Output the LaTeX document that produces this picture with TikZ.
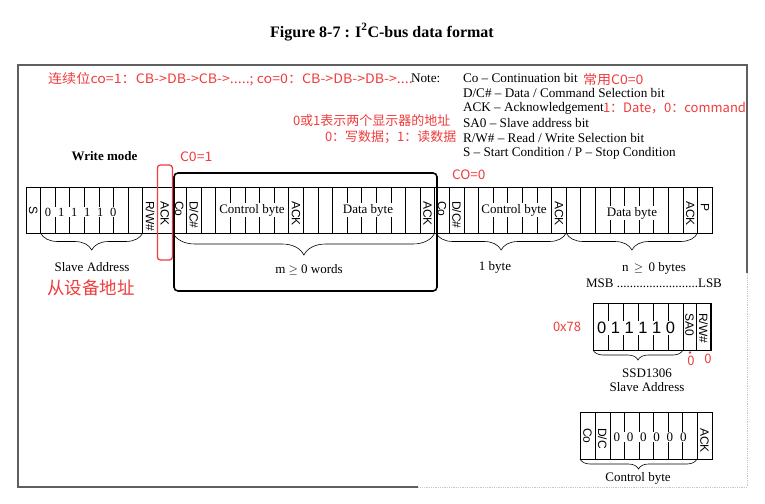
\documentclass[tikz,border=0pt]{standalone}
\usepackage{fontspec}
\setmainfont{Liberation Serif}
\setsansfont{Liberation Sans}
\newfontfamily\cjk{Noto Sans CJK SC}
\usetikzlibrary{decorations.pathreplacing}
\definecolor{anno}{RGB}{240,60,60}
\definecolor{framegray}{RGB}{95,95,95}
\begin{document}
\begin{tikzpicture}[x=1pt,y=-1pt,
  every node/.style={inner sep=0pt, outer sep=0pt},
  txt/.style={font=\fontsize{13}{15}\selectfont},
  notetxt/.style={font=\fontsize{13.2}{15}\selectfont, anchor=west},
  annot/.style={text=anno, font=\cjk\fontsize{13}{15}\selectfont, anchor=west},
  vlab/.style={font=\sffamily\fontsize{12}{12}\selectfont, rotate=-90, anchor=west},
  cellline/.style={line width=0.8pt},
  bytelab/.style={font=\fontsize{13}{15}\selectfont, fill=white, inner sep=1pt},
  brc/.style={decorate, decoration={brace, mirror, amplitude=#1}, line width=0.6pt},
]
\useasboundingbox (0,0) rectangle (765,503);
\fill[white] (0,0) rectangle (765,503);

% frame
\draw[framegray, line width=1.4pt] (418,487) -- (18,487) -- (18,65) -- (747,65) -- (747,273);
\draw[gray!45, densely dotted, line width=0.8pt] (747,273) -- (747,487) -- (418,487);

% title
\node[font=\bfseries\fontsize{16}{18}\selectfont] (title) at (382,32) {Figure 8-7 : I\textsuperscript{2}C-bus data format};

% notes
\node[notetxt] (note) at (411,78) {Note:};
\node[notetxt] (n1) at (463,78) {Co -- Continuation bit};
\node[notetxt] (n2) at (463,93) {D/C\# -- Data / Command Selection bit};
\node[notetxt] (n3) at (463,108) {ACK -- Acknowledgement};
\node[notetxt] (n4) at (463,123) {SA0 -- Slave address bit};
\node[notetxt] (n5) at (463,138) {R/W\# -- Read / Write Selection bit};
\node[notetxt] (n6) at (463,153) {S -- Start Condition / P -- Stop Condition};

% red annotations
\node[annot, xscale=1.09] (a1) at (48,79) {连续位co=1：CB->DB->CB->.....; co=0：CB->DB->DB->....};
\node[annot, xscale=1.08] (a2) at (583,80) {常用C0=0};
\node[annot] (a3) at (603,108) {1：Date，0：command};
\node[annot] (a4) at (293,121) {0或1表示两个显示器的地址};
\node[annot] (a5) at (325,137) {0：写数据；1：读数据};
\node[annot, xscale=1.08] (a6) at (180,157) {C0=1};
\node[annot, xscale=1.05] (a7) at (452,175) {CO=0};
\node[annot, font=\cjk\fontsize{17.5}{20}\selectfont] (a8) at (47,288) {从设备地址};
\node[annot] (a9) at (553,327) {0x78};
\node[annot, anchor=center] (a10) at (691,361) {0};
\node[annot, anchor=center] (a11) at (708,359) {0};

\node[font=\bfseries\fontsize{13}{15}\selectfont] (wm) at (104.5,156) {Write mode};

% main row
\draw[cellline] (26,187) rectangle (712.2,233);
\foreach \i in {1,...,46} \draw[cellline] ({26+\i*14.6},187) -- ({26+\i*14.6},233);

\node[font=\sffamily\fontsize{12}{12}\selectfont, rotate=-90] (cS) at ({26+0.5*14.6},210) {S};
\node[fill=white, inner sep=1.2pt, font=\fontsize{12.5}{14}\selectfont] (addr) at (80.7,212)
  {0\kern6.8pt 1\kern6.8pt 1\kern6.8pt 1\kern6.8pt 1\kern6.8pt 0};
\node[vlab] (cRW) at ({26+8.5*14.6},201) {R/W\#};
\node[vlab] (cA1) at ({26+9.5*14.6},201) {ACK};
\node[vlab] (cCo1) at ({26+10.5*14.6},201) {Co};
\node[vlab] (cDC1) at ({26+11.5*14.6},201) {D/C\#};
\node[bytelab] (cb1) at (252,210) {Control byte};
\node[vlab] (cA2) at ({26+18.5*14.6},201) {ACK};
\node[bytelab] (db1) at (368,210) {Data byte};
\node[vlab] (cA3) at ({26+27.5*14.6},201) {ACK};
\node[vlab] (cCo2) at ({26+28.5*14.6},201) {Co};
\node[vlab] (cDC2) at ({26+29.5*14.6},201) {D/C\#};
\node[bytelab] (cb2) at (514,210) {Control byte};
\node[vlab] (cA4) at ({26+36.5*14.6},201) {ACK};
\node[bytelab] (db2) at (632,213) {Data byte};
\node[vlab] (cA5) at ({26+45.5*14.6},201) {ACK};
\node[vlab] (cP) at ({26+46.5*14.6},203) {P};

% highlight boxes
\draw[line width=1.6pt, rounded corners=4pt] (174,173) rectangle (437,291);
\draw[anno, line width=1.3pt, rounded corners=3pt] (157.4,165) rectangle (172.4,260);

% braces
\coordinate (b1s) at (40.6,233); \coordinate (b1e) at (142.8,233);
\coordinate (b2s) at (173,233); \coordinate (b2e) at (434.8,233);
\coordinate (b3s) at (436,233); \coordinate (b3e) at (566.2,233);
\coordinate (b4s) at (566.2,233); \coordinate (b4e) at (697.6,233);
\draw[brc=17] (b1s) -- (b1e);
\draw[brc=22] (b2s) -- (b2e);
\draw[brc=17] (b3s) -- (b3e);
\draw[brc=17] (b4s) -- (b4e);
\node[txt] (lsa) at (92,267) {Slave Address};
\node[txt] (lm) at (309,270) {m $\geq$ 0 words};
\node[txt] (l1) at (495,267) {1 byte};
\node[txt] (ln) at (654,268) {n \,$\geq$\, 0 bytes};
\node[txt] (lmsb) at (654,283) {MSB .........................LSB};

% SSD1306 slave address box
\draw[cellline] (593,303) rectangle (711,350);
\foreach \x in {608,623,638,653,668,683,696} \draw[cellline] (\x,303) -- (\x,350);
\draw[line width=2pt] (711,303) -- (711,350);
\node[fill=white, inner sep=1pt, font=\sffamily\fontsize{16.5}{18}\selectfont] (sdig) at (636,328) {0 1 1 1 1 0};
\node[vlab] (sSA) at (689.5,313) {SA0};
\node[vlab] (sRW) at (703.5,313) {R/W\#};
\coordinate (b5s) at (593,350); \coordinate (b5e) at (683,350);
\draw[brc=10] (b5s) -- (b5e);
\fill[anno] (690,352.5) circle (1.4);
\node[txt] (lssd) at (647,373) {SSD1306};
\node[txt] (lssa) at (647,387) {Slave Address};

% control byte box
\draw[cellline] (580,412) rectangle (712,459);
\foreach \x in {595,610,624.5,639,653.5,668,682.5,697} \draw[cellline] (\x,412) -- (\x,459);
\node[fill=white, inner sep=1pt, font=\fontsize{13}{15}\selectfont] (cdig) at (650,437)
  {0\kern6.8pt 0\kern6.8pt 0\kern6.8pt 0\kern6.8pt 0\kern6.8pt 0};
\node[vlab] (kCo) at (587.5,428) {Co};
\node[vlab] (kDC) at (602.5,428) {D/C};
\node[vlab] (kA) at (704.5,428) {ACK};
\coordinate (b6s) at (580,459); \coordinate (b6e) at (697,459);
\draw[brc=10] (b6s) -- (b6e);
\node[txt] (lcb) at (638,478) {Control byte};
\end{tikzpicture}
\end{document}
